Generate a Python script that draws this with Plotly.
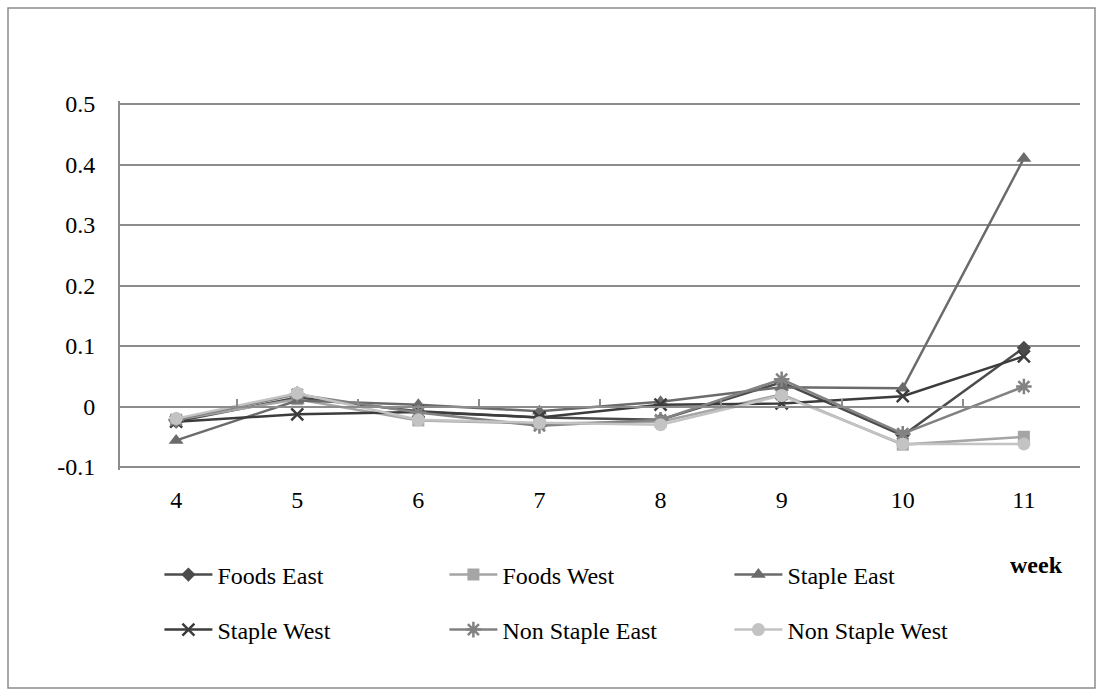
import plotly.graph_objects as go

# Weekly change by product group and region
weeks = ["4", "5", "6", "7", "8", "9", "10", "11"]

foods_east = [-0.025, 0.015, -0.008, -0.018, -0.022, 0.040, -0.048, 0.097]
foods_west = [-0.022, 0.012, -0.023, -0.028, -0.025, 0.020, -0.063, -0.050]
staple_east = [-0.056, 0.010, 0.003, -0.008, 0.008, 0.032, 0.030, 0.410]
staple_west = [-0.025, -0.013, -0.009, -0.018, 0.003, 0.005, 0.017, 0.083]
non_staple_east = [-0.022, 0.020, -0.010, -0.032, -0.022, 0.045, -0.045, 0.033]
non_staple_west = [-0.020, 0.022, -0.022, -0.027, -0.030, 0.018, -0.062, -0.062]

y_tick_vals = [-0.1, 0, 0.1, 0.2, 0.3, 0.4, 0.5]
y_tick_text = ["-0.1", "0", "0.1", "0.2", "0.3", "0.4", "0.5"]
y_min, y_max = -0.1, 0.5

FONT = "Liberation Serif"
GRID = "#8c8c8c"

# Page geometry (pixels). The value range is padded by a few pixels so the
# gridlines at -0.1 and 0.5 are kept by plotly.
W, H = 1104, 695
PLOT_L, PLOT_R = 120, 1080
GRID_TOP, GRID_BOT = 104, 467
PAD_PX = 3
px_per_unit = (GRID_BOT - GRID_TOP) / (y_max - y_min)
pad = PAD_PX / px_per_unit
PLOT_T, PLOT_B = GRID_TOP - PAD_PX, GRID_BOT + PAD_PX


def px_x(px):
    return (px - PLOT_L) / (PLOT_R - PLOT_L)


def px_y(py):
    return (PLOT_B - py) / (PLOT_B - PLOT_T)


series = [
    # name, values, colour, symbol, size, legend
    ("Foods East", foods_east, "#4b4b4b", "diamond", 11, "legend"),
    ("Foods West", foods_west, "#a5a5a5", "square", 12, "legend"),
    ("Staple East", staple_east, "#6b6b6b", "triangle-up", 13, "legend"),
    ("Staple West", staple_west, "#3c3c3c", "x-thin-open", 12, "legend2"),
    ("Non Staple East", non_staple_east, "#828282", "asterisk-open", 13, "legend2"),
    ("Non Staple West", non_staple_west, "#c3c3c3", "circle", 13, "legend2"),
]

fig = go.Figure()
for name, vals, color, symbol, size, leg in series:
    open_sym = symbol.endswith("-open")
    fig.add_trace(go.Scatter(
        x=weeks, y=vals, name=name, mode="lines+markers",
        line=dict(color=color, width=2.5),
        marker=dict(symbol=symbol, size=size, color=color,
                    line=dict(color=color, width=2.5 if open_sym else 0)),
        legend=leg,
    ))

# the category axis crosses the value axis at zero
x_axis_pos = (0 - (y_min - pad)) / ((y_max + pad) - (y_min - pad))

legend_common = dict(
    orientation="h", xanchor="left", yanchor="middle",
    entrywidth=222, entrywidthmode="pixels",
    font=dict(family=FONT, size=24, color="#000000"),
    bgcolor="rgba(0,0,0,0)", itemwidth=48,
)

fig.update_layout(
    width=W, height=H,
    margin=dict(l=PLOT_L, r=W - PLOT_R, t=PLOT_T, b=H - PLOT_B),
    paper_bgcolor="white", plot_bgcolor="white",
    font=dict(family=FONT, size=24, color="#000000"),
    showlegend=True,
    legend=dict(x=px_x(159.4), y=px_y(575), **legend_common),
    legend2=dict(x=px_x(159.4), y=px_y(630), **legend_common),
    xaxis=dict(
        type="category", anchor="free", position=x_axis_pos,
        showline=True, linecolor=GRID, linewidth=2,
        ticks="inside", tickson="boundaries", ticklen=7, tickcolor=GRID, tickwidth=2,
        showgrid=False, ticklabelstandoff=72,
        tickfont=dict(family=FONT, size=24),
    ),
    yaxis=dict(
        range=[y_min - pad, y_max + pad], tickvals=y_tick_vals, ticktext=y_tick_text,
        showline=True, linecolor=GRID, linewidth=2,
        showgrid=True, gridcolor=GRID, gridwidth=2,
        zeroline=False, ticks="", ticklabelstandoff=18,
        tickfont=dict(family=FONT, size=24),
    ),
    annotations=[dict(
        text="<b>week</b>", xref="paper", yref="paper",
        x=px_x(1036), y=px_y(565), xanchor="center", yanchor="middle",
        showarrow=False, font=dict(family=FONT, size=24, color="#000000"),
    )],
    shapes=[dict(
        type="rect", xref="paper", yref="paper",
        x0=px_x(8), x1=px_x(1095), y0=px_y(688), y1=px_y(8),
        line=dict(color="#8c8c8c", width=1.5), fillcolor="rgba(0,0,0,0)",
        layer="below",
    )],
)

fig.write_html("out.html")
